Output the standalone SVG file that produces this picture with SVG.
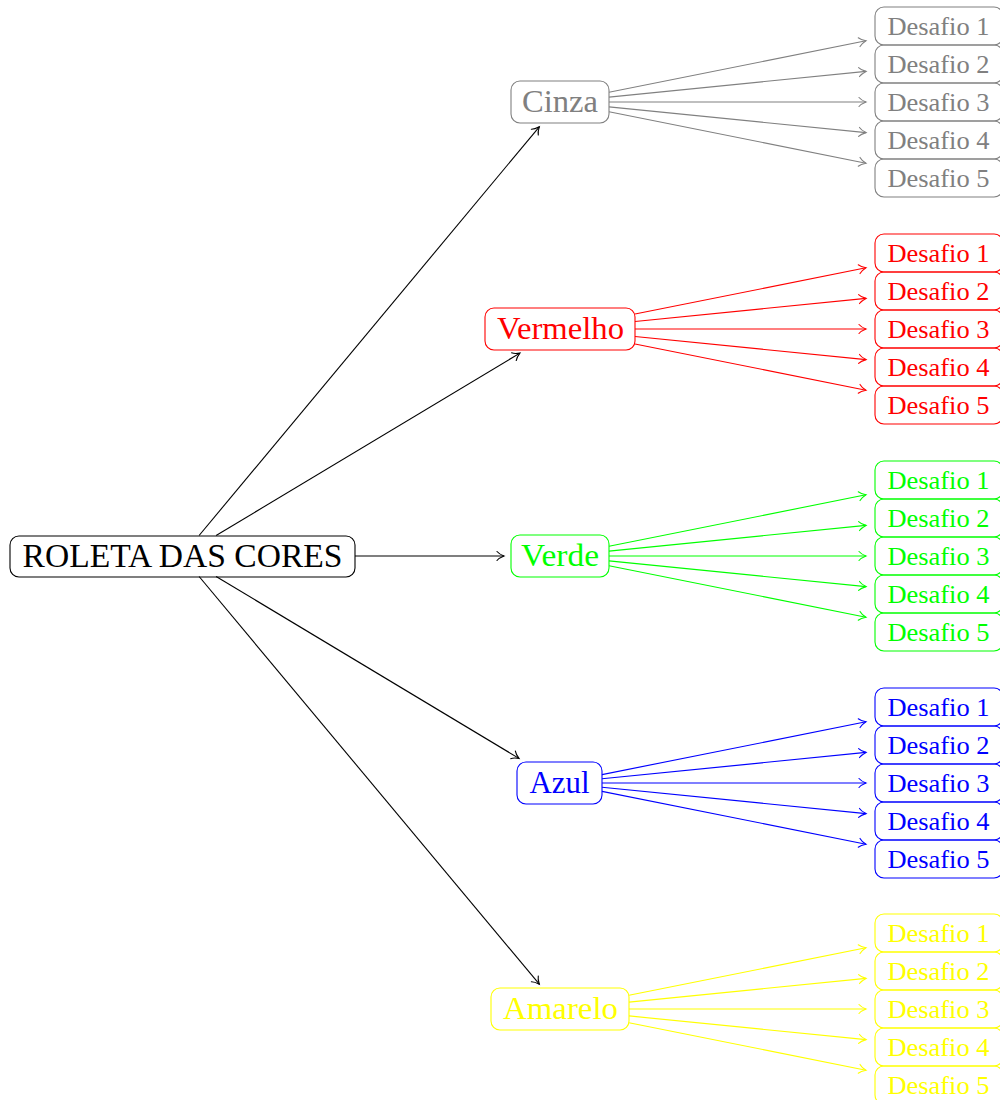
<svg xmlns="http://www.w3.org/2000/svg" width="1000" height="1100" viewBox="0 0 1000 1100">
<style>
text{font-family:"Liberation Serif","Times New Roman",serif;text-anchor:middle}
.box{fill:none;stroke-width:1.1}
.big{font-size:31px}
.d{font-size:26px}
line{stroke-width:1.1;fill:none}
.k{stroke:#000}.kt{fill:#000}
.g{stroke:#808080}.gt{fill:#808080}
.r{stroke:#ff0000}.rt{fill:#ff0000}
.n{stroke:#00ff00}.nt{fill:#00ff00}
.b{stroke:#0000ff}.bt{fill:#0000ff}
.y{stroke:#ffff00}.yt{fill:#ffff00}
</style>
<defs>
<marker id="ak" markerUnits="userSpaceOnUse" orient="auto" refX="0" refY="0" markerWidth="12" markerHeight="12" overflow="visible"><path d="M-7,-4.5 C-5,-2 -1.5,-0.6 0,0 C-1.5,0.6 -5,2 -7,4.5" fill="none" stroke="#000" stroke-width="1.1" stroke-linecap="round"/></marker>
<marker id="ag" markerUnits="userSpaceOnUse" orient="auto" refX="0" refY="0" markerWidth="12" markerHeight="12" overflow="visible"><path d="M-7,-4.5 C-5,-2 -1.5,-0.6 0,0 C-1.5,0.6 -5,2 -7,4.5" fill="none" stroke="#808080" stroke-width="1.1" stroke-linecap="round"/></marker>
<marker id="ar" markerUnits="userSpaceOnUse" orient="auto" refX="0" refY="0" markerWidth="12" markerHeight="12" overflow="visible"><path d="M-7,-4.5 C-5,-2 -1.5,-0.6 0,0 C-1.5,0.6 -5,2 -7,4.5" fill="none" stroke="#ff0000" stroke-width="1.1" stroke-linecap="round"/></marker>
<marker id="an" markerUnits="userSpaceOnUse" orient="auto" refX="0" refY="0" markerWidth="12" markerHeight="12" overflow="visible"><path d="M-7,-4.5 C-5,-2 -1.5,-0.6 0,0 C-1.5,0.6 -5,2 -7,4.5" fill="none" stroke="#00ff00" stroke-width="1.1" stroke-linecap="round"/></marker>
<marker id="ab" markerUnits="userSpaceOnUse" orient="auto" refX="0" refY="0" markerWidth="12" markerHeight="12" overflow="visible"><path d="M-7,-4.5 C-5,-2 -1.5,-0.6 0,0 C-1.5,0.6 -5,2 -7,4.5" fill="none" stroke="#0000ff" stroke-width="1.1" stroke-linecap="round"/></marker>
<marker id="ay" markerUnits="userSpaceOnUse" orient="auto" refX="0" refY="0" markerWidth="12" markerHeight="12" overflow="visible"><path d="M-7,-4.5 C-5,-2 -1.5,-0.6 0,0 C-1.5,0.6 -5,2 -7,4.5" fill="none" stroke="#ffff00" stroke-width="1.1" stroke-linecap="round"/></marker>
</defs>

<g id="connectors">
<g class="k" marker-end="url(#ak)">
<line x1="199.1" y1="535.5" x2="539.3" y2="126.8"/>
<line x1="216.1" y1="535.5" x2="519.9" y2="353.1"/>
<line x1="355" y1="556" x2="504" y2="556"/>
<line x1="216.1" y1="576.5" x2="519" y2="758.4"/>
<line x1="199.1" y1="576.5" x2="539.3" y2="984.2"/>
</g>
<g class="g" marker-end="url(#ag)">
<line x1="609" y1="92.2" x2="866" y2="40.8"/>
<line x1="609" y1="97.1" x2="866" y2="71.4"/>
<line x1="609" y1="102" x2="866" y2="102"/>
<line x1="609" y1="106.9" x2="866" y2="132.6"/>
<line x1="609" y1="111.8" x2="866" y2="163.2"/>
</g>
<g class="r" marker-end="url(#ar)">
<line x1="635" y1="314" x2="866" y2="267.8"/>
<line x1="635" y1="321.5" x2="866" y2="298.4"/>
<line x1="635" y1="329" x2="866" y2="329"/>
<line x1="635" y1="336.5" x2="866" y2="359.6"/>
<line x1="635" y1="344" x2="866" y2="390.2"/>
</g>
<g class="n" marker-end="url(#an)">
<line x1="609" y1="546.2" x2="866" y2="494.8"/>
<line x1="609" y1="551.1" x2="866" y2="525.4"/>
<line x1="609" y1="556" x2="866" y2="556"/>
<line x1="609" y1="560.9" x2="866" y2="586.6"/>
<line x1="609" y1="565.8" x2="866" y2="617.2"/>
</g>
<g class="b" marker-end="url(#ab)">
<line x1="602" y1="774.6" x2="866" y2="721.8"/>
<line x1="602" y1="778.8" x2="866" y2="752.4"/>
<line x1="602" y1="783" x2="866" y2="783"/>
<line x1="602" y1="787.2" x2="866" y2="813.6"/>
<line x1="602" y1="791.4" x2="866" y2="844.2"/>
</g>
<g class="y" marker-end="url(#ay)">
<line x1="629" y1="995.2" x2="866" y2="947.8"/>
<line x1="629" y1="1002.1" x2="866" y2="978.4"/>
<line x1="629" y1="1009" x2="866" y2="1009"/>
<line x1="629" y1="1015.9" x2="866" y2="1039.6"/>
<line x1="629" y1="1022.8" x2="866" y2="1070.2"/>
</g>
</g>

<g id="root">
<rect class="box k" x="10" y="536" width="345" height="41" rx="9"/>
<text class="kt" x="182.5" y="567" font-size="34" textLength="320" lengthAdjust="spacingAndGlyphs">ROLETA DAS CORES</text>
</g>

<g id="cinza">
<rect class="box g" x="511" y="81" width="98" height="42" rx="9"/>
<text class="big gt" x="560" y="112" textLength="76" lengthAdjust="spacingAndGlyphs">Cinza</text>
</g>
<g id="vermelho">
<rect class="box r" x="485" y="308" width="150" height="42" rx="9"/>
<text class="big rt" x="560.5" y="339" textLength="127" lengthAdjust="spacingAndGlyphs">Vermelho</text>
</g>
<g id="verde">
<rect class="box n" x="511" y="535" width="98" height="42" rx="9"/>
<text class="big nt" x="560" y="566" textLength="78" lengthAdjust="spacingAndGlyphs">Verde</text>
</g>
<g id="azul">
<rect class="box b" x="517" y="762" width="85" height="42" rx="9"/>
<text class="big bt" x="559.5" y="793" textLength="60" lengthAdjust="spacingAndGlyphs">Azul</text>
</g>
<g id="amarelo">
<rect class="box y" x="491" y="988" width="138" height="42" rx="9"/>
<text class="big yt" x="560.5" y="1019" textLength="115" lengthAdjust="spacingAndGlyphs">Amarelo</text>
</g>

<g id="cinza-desafios">
<g id="cinza-d1"><rect class="box g" x="875" y="7" width="128" height="38" rx="9"/><text class="d gt" x="938.5" y="35" textLength="102" lengthAdjust="spacingAndGlyphs">Desafio 1</text></g>
<g id="cinza-d2"><rect class="box g" x="875" y="45" width="128" height="38" rx="9"/><text class="d gt" x="938.5" y="73" textLength="102" lengthAdjust="spacingAndGlyphs">Desafio 2</text></g>
<g id="cinza-d3"><rect class="box g" x="875" y="83" width="128" height="38" rx="9"/><text class="d gt" x="938.5" y="111" textLength="102" lengthAdjust="spacingAndGlyphs">Desafio 3</text></g>
<g id="cinza-d4"><rect class="box g" x="875" y="121" width="128" height="38" rx="9"/><text class="d gt" x="938.5" y="149" textLength="102" lengthAdjust="spacingAndGlyphs">Desafio 4</text></g>
<g id="cinza-d5"><rect class="box g" x="875" y="159" width="128" height="38" rx="9"/><text class="d gt" x="938.5" y="187" textLength="102" lengthAdjust="spacingAndGlyphs">Desafio 5</text></g>
</g>
<g id="vermelho-desafios">
<g id="vermelho-d1"><rect class="box r" x="875" y="234" width="128" height="38" rx="9"/><text class="d rt" x="938.5" y="262" textLength="102" lengthAdjust="spacingAndGlyphs">Desafio 1</text></g>
<g id="vermelho-d2"><rect class="box r" x="875" y="272" width="128" height="38" rx="9"/><text class="d rt" x="938.5" y="300" textLength="102" lengthAdjust="spacingAndGlyphs">Desafio 2</text></g>
<g id="vermelho-d3"><rect class="box r" x="875" y="310" width="128" height="38" rx="9"/><text class="d rt" x="938.5" y="338" textLength="102" lengthAdjust="spacingAndGlyphs">Desafio 3</text></g>
<g id="vermelho-d4"><rect class="box r" x="875" y="348" width="128" height="38" rx="9"/><text class="d rt" x="938.5" y="376" textLength="102" lengthAdjust="spacingAndGlyphs">Desafio 4</text></g>
<g id="vermelho-d5"><rect class="box r" x="875" y="386" width="128" height="38" rx="9"/><text class="d rt" x="938.5" y="414" textLength="102" lengthAdjust="spacingAndGlyphs">Desafio 5</text></g>
</g>
<g id="verde-desafios">
<g id="verde-d1"><rect class="box n" x="875" y="461" width="128" height="38" rx="9"/><text class="d nt" x="938.5" y="489" textLength="102" lengthAdjust="spacingAndGlyphs">Desafio 1</text></g>
<g id="verde-d2"><rect class="box n" x="875" y="499" width="128" height="38" rx="9"/><text class="d nt" x="938.5" y="527" textLength="102" lengthAdjust="spacingAndGlyphs">Desafio 2</text></g>
<g id="verde-d3"><rect class="box n" x="875" y="537" width="128" height="38" rx="9"/><text class="d nt" x="938.5" y="565" textLength="102" lengthAdjust="spacingAndGlyphs">Desafio 3</text></g>
<g id="verde-d4"><rect class="box n" x="875" y="575" width="128" height="38" rx="9"/><text class="d nt" x="938.5" y="603" textLength="102" lengthAdjust="spacingAndGlyphs">Desafio 4</text></g>
<g id="verde-d5"><rect class="box n" x="875" y="613" width="128" height="38" rx="9"/><text class="d nt" x="938.5" y="641" textLength="102" lengthAdjust="spacingAndGlyphs">Desafio 5</text></g>
</g>
<g id="azul-desafios">
<g id="azul-d1"><rect class="box b" x="875" y="688" width="128" height="38" rx="9"/><text class="d bt" x="938.5" y="716" textLength="102" lengthAdjust="spacingAndGlyphs">Desafio 1</text></g>
<g id="azul-d2"><rect class="box b" x="875" y="726" width="128" height="38" rx="9"/><text class="d bt" x="938.5" y="754" textLength="102" lengthAdjust="spacingAndGlyphs">Desafio 2</text></g>
<g id="azul-d3"><rect class="box b" x="875" y="764" width="128" height="38" rx="9"/><text class="d bt" x="938.5" y="792" textLength="102" lengthAdjust="spacingAndGlyphs">Desafio 3</text></g>
<g id="azul-d4"><rect class="box b" x="875" y="802" width="128" height="38" rx="9"/><text class="d bt" x="938.5" y="830" textLength="102" lengthAdjust="spacingAndGlyphs">Desafio 4</text></g>
<g id="azul-d5"><rect class="box b" x="875" y="840" width="128" height="38" rx="9"/><text class="d bt" x="938.5" y="868" textLength="102" lengthAdjust="spacingAndGlyphs">Desafio 5</text></g>
</g>
<g id="amarelo-desafios">
<g id="amarelo-d1"><rect class="box y" x="875" y="914" width="128" height="38" rx="9"/><text class="d yt" x="938.5" y="942" textLength="102" lengthAdjust="spacingAndGlyphs">Desafio 1</text></g>
<g id="amarelo-d2"><rect class="box y" x="875" y="952" width="128" height="38" rx="9"/><text class="d yt" x="938.5" y="980" textLength="102" lengthAdjust="spacingAndGlyphs">Desafio 2</text></g>
<g id="amarelo-d3"><rect class="box y" x="875" y="990" width="128" height="38" rx="9"/><text class="d yt" x="938.5" y="1018" textLength="102" lengthAdjust="spacingAndGlyphs">Desafio 3</text></g>
<g id="amarelo-d4"><rect class="box y" x="875" y="1028" width="128" height="38" rx="9"/><text class="d yt" x="938.5" y="1056" textLength="102" lengthAdjust="spacingAndGlyphs">Desafio 4</text></g>
<g id="amarelo-d5"><rect class="box y" x="875" y="1066" width="128" height="38" rx="9"/><text class="d yt" x="938.5" y="1094" textLength="102" lengthAdjust="spacingAndGlyphs">Desafio 5</text></g>
</g>
</svg>
